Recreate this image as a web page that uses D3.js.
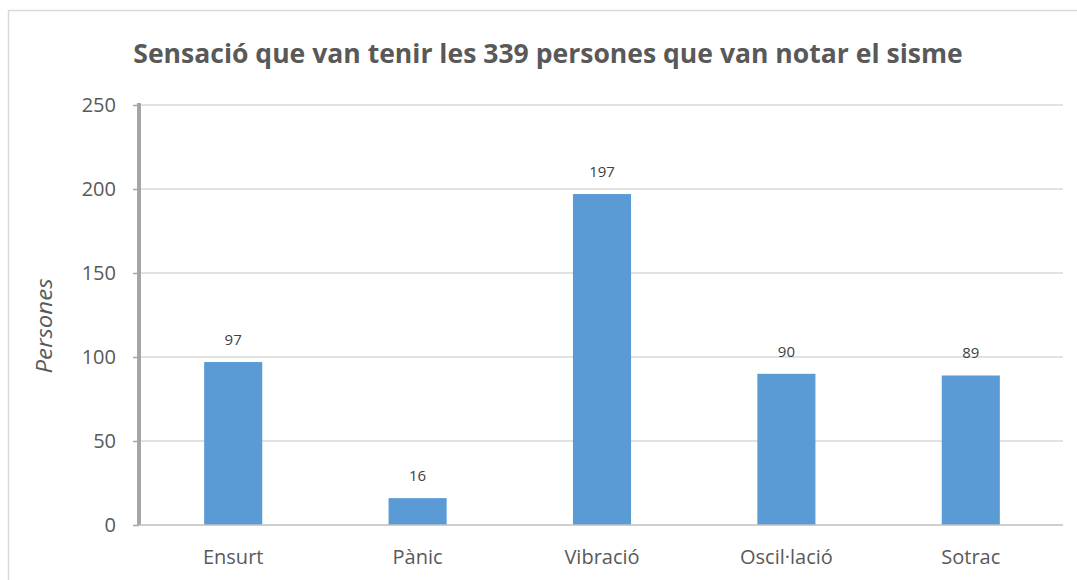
<!DOCTYPE html>
<html><head><meta charset="utf-8">
<script src="https://cdn.jsdelivr.net/npm/d3@7"></script>
<style>body{margin:0;background:#fff}svg{display:block}</style>
</head><body><svg id="c" width="1077" height="580"></svg>
<script>
const categories = ["Ensurt", "Pànic", "Vibració", "Oscil·lació", "Sotrac"];
const values = [97, 16, 197, 90, 89];
const yTicks = [0, 50, 100, 150, 200, 250];
const titleText = "Sensació que van tenir les 339 persones que van notar el sisme";
const yTitle = "Persones";

const svg = d3.select("#c");
const font = "'Open Sans', 'Liberation Sans', sans-serif";
// frame
svg.append("rect").attr("x", 8.5).attr("y", 10.5).attr("width", 1100).attr("height", 600)
  .attr("fill", "#fff").attr("stroke", "#d9d9d9").attr("stroke-width", 1.5);

const L = 139, R = 1063, T = 105, B = 525;
const x = d3.scaleBand().domain(categories).range([141, R]).paddingInner(0.685).paddingOuter(0.3425);
const y = d3.scaleLinear().domain([0, 250]).range([B, T]);

// gridlines
svg.append("g").selectAll("line").data(yTicks.filter(d => d > 0)).join("line")
  .attr("x1", L).attr("x2", R).attr("y1", d => y(d)).attr("y2", d => y(d))
  .attr("stroke", "#d9d9d9").attr("stroke-width", 1.3);

// y axis
const ya = svg.append("g").attr("transform", `translate(${L},0)`)
  .call(d3.axisLeft(y).tickValues(yTicks).tickSize(6).tickPadding(17));
ya.select(".domain").attr("stroke", "#a6a6a6").attr("stroke-width", 4).attr("d", `M0,${B}V${T-2}`);
ya.selectAll(".tick line").attr("stroke", "#a6a6a6").attr("stroke-width", 1.5);
ya.selectAll(".tick text").attr("fill", "#595959").attr("font-size", 20).attr("font-family", font);

// bars
svg.append("g").selectAll("rect").data(values).join("rect")
  .attr("x", (d, i) => x(categories[i])).attr("width", x.bandwidth())
  .attr("y", d => y(d)).attr("height", d => B - y(d)).attr("fill", "#5b9bd5");

// baseline
svg.append("line").attr("x1", L).attr("x2", R).attr("y1", B).attr("y2", B)
  .attr("stroke", "#bfbfbf").attr("stroke-width", 1.5);

// x labels
svg.append("g").selectAll("text").data(categories).join("text")
  .attr("x", d => x(d) + x.bandwidth() / 2).attr("y", 564)
  .attr("text-anchor", "middle").attr("fill", "#595959").attr("font-size", 20)
  .attr("font-family", font).text(d => d);

// data labels
svg.append("g").selectAll("text").data(values).join("text")
  .attr("x", (d, i) => x(categories[i]) + x.bandwidth() / 2).attr("y", d => y(d) - 17)
  .attr("text-anchor", "middle").attr("fill", "#404040").attr("font-size", 15)
  .attr("font-family", font).text(d => d);

// y title
svg.append("text").attr("transform", "translate(52,326) rotate(-90)")
  .attr("text-anchor", "middle").attr("fill", "#595959").attr("font-size", 22)
  .attr("font-style", "italic").attr("font-family", font)
  .attr("textLength", 95).attr("lengthAdjust", "spacingAndGlyphs").text(yTitle);

// title
const t = svg.append("text").attr("x", 548).attr("y", 63).attr("text-anchor", "middle")
  .attr("fill", "#595959").attr("font-size", 25).attr("font-weight", "bold")
  .attr("font-family", font).text(titleText);
const w = t.node().getComputedTextLength();
t.attr("font-size", 25 * 830 / w);
</script></body></html>
